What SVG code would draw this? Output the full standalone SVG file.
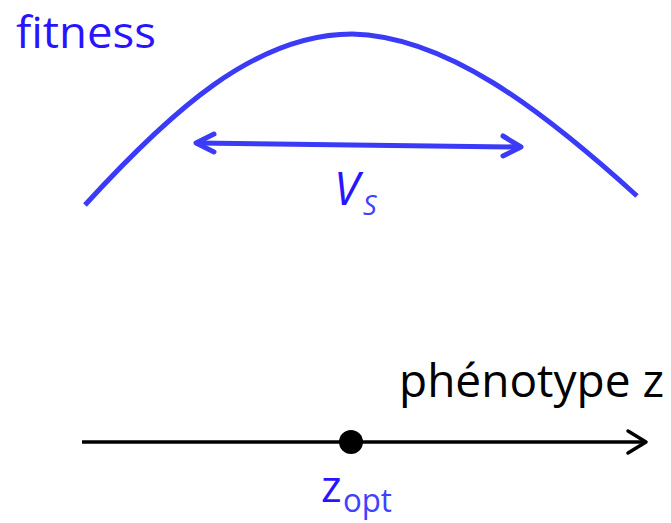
<svg xmlns="http://www.w3.org/2000/svg" width="671" height="523" viewBox="0 0 671 523">
  <style>
    .t { font-family: "Open Sans", "Noto Sans", "Liberation Sans", sans-serif; }
    .blue { fill: #2a14ff; }
    .lblue { fill: #4040ff; }
    .curve { fill: none; stroke: #3b3bf7; stroke-width: 5; stroke-linecap: butt; }
    .arrowb { fill: none; stroke: #3b3bf7; stroke-width: 5; stroke-linecap: round; stroke-linejoin: round; }
    .axis { fill: none; stroke: #000; stroke-width: 3.5; stroke-linecap: butt; }
    .axhead { fill: none; stroke: #000; stroke-width: 3.5; stroke-linecap: round; stroke-linejoin: round; }
  </style>
  <rect width="671" height="523" fill="#fff"/>
  <g id="fitness-label">
    <text class="t blue" x="16" y="48" font-size="44" textLength="140" lengthAdjust="spacingAndGlyphs">fitness</text>
  </g>
  <g id="fitness-curve">
    <path class="curve" d="M85,205 C170,112 255,34 352,34 C445,36 540,108 637,196"/>
  </g>
  <g id="connectors">
    <g id="vs-arrow">
      <line class="arrowb" x1="197" y1="143" x2="520" y2="147"/>
      <polyline class="arrowb" points="214,134 196,143 214,152"/>
      <polyline class="arrowb" points="503,136 521,147 503,156"/>
    </g>
    <g id="axis">
      <line class="axis" x1="82" y1="442" x2="645" y2="442"/>
      <polyline class="axhead" points="628,431 646,442 628,453"/>
    </g>
  </g>
  <g id="vs-label">
    <text class="t blue" x="334" y="205" font-size="46" font-style="italic">V</text>
    <text class="t lblue" x="363" y="215" font-size="27" font-style="italic">S</text>
  </g>
  <g id="zopt">
    <circle cx="351" cy="442" r="12" fill="#000"/>
    <text class="t blue" x="321" y="502" font-size="44">z</text>
    <text class="t lblue" x="343" y="512" font-size="32" textLength="49" lengthAdjust="spacingAndGlyphs">opt</text>
  </g>
  <g id="phenotype-label">
    <text class="t" x="399" y="397" font-size="46" fill="#000" textLength="265" lengthAdjust="spacingAndGlyphs">phénotype z</text>
  </g>
</svg>
